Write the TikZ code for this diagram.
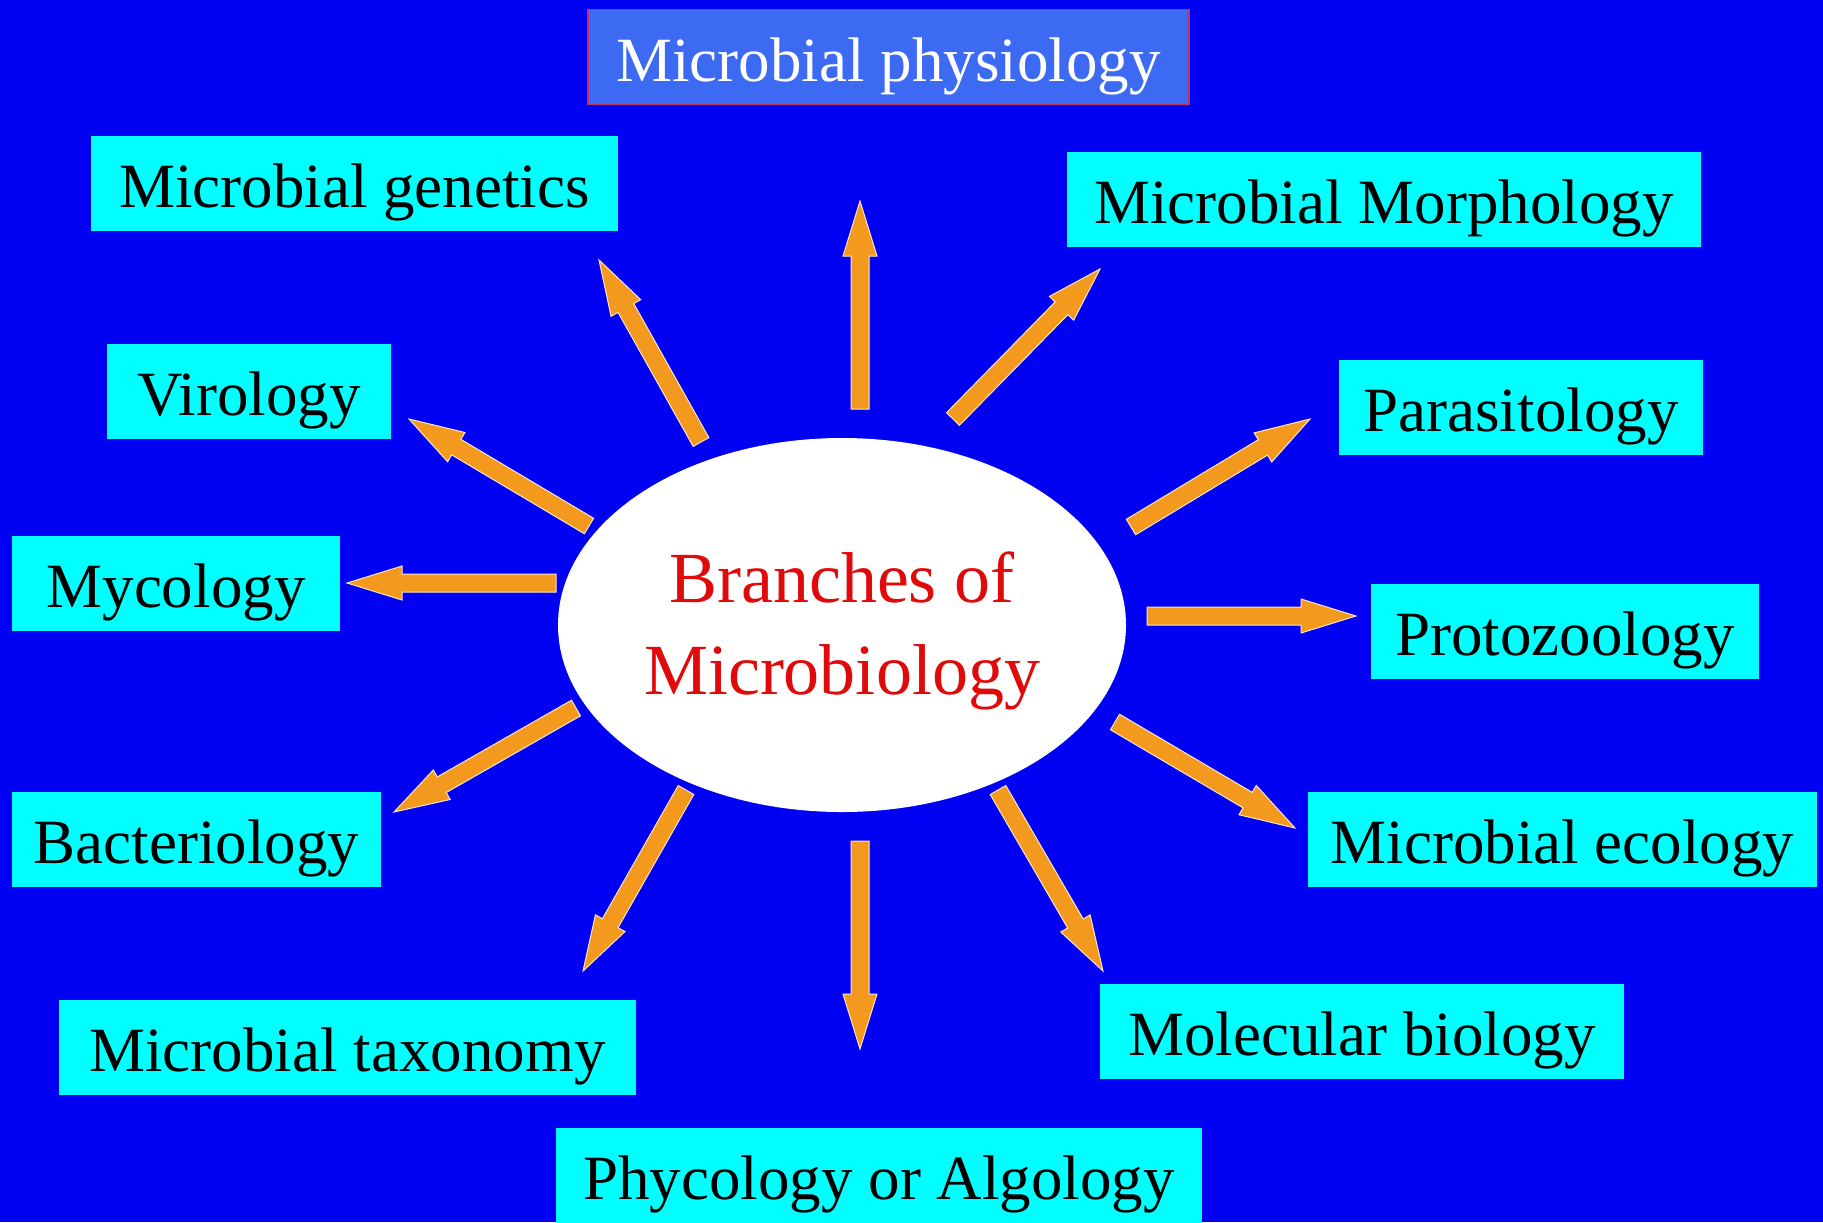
\documentclass[tikz,border=0pt]{standalone}
\usepackage{fontspec}
\setmainfont{Liberation Serif}
\usetikzlibrary{calc,shapes.geometric}
\definecolor{Slide}{HTML}{0000F2}
\definecolor{Topic}{HTML}{00FFFF}
\definecolor{Header}{HTML}{3D6AF2}
\definecolor{HeaderLine}{HTML}{C0306A}
\definecolor{Amber}{HTML}{F39A1E}
\definecolor{Rim}{HTML}{FCE6C8}
\definecolor{Title}{HTML}{E00A0A}
\tikzset{
  topic/.style={fill=Topic,inner sep=0pt,minimum height=47.5pt,text height=24pt,text depth=0pt,font=\fontsize{31.5}{36}\selectfont},
  header/.style={topic,fill=Header,draw=HeaderLine,line width=0.75pt,text=white},
  hub/.style={ellipse,fill=white,inner sep=0pt,minimum width=284pt,minimum height=187pt,align=center,text=Title,font=\fontsize{36}{46}\selectfont},
  arrowbody/.style={fill=Amber,draw=Rim,line width=0.5pt,line join=miter}
}
% block arrow from #1 (tail) to #2 (tip)
\newcommand{\branch}[2]{%
  \filldraw[arrowbody] ($(#1)!4.5pt!90:(#2)$) -- ($(#2)!27.5pt!(#1)!4.5pt!90:(#2)$)
    -- ($(#2)!27.5pt!(#1)!8.5pt!90:(#2)$) -- (#2)
    -- ($(#2)!27.5pt!(#1)!8.5pt!-90:(#2)$) -- ($(#2)!27.5pt!(#1)!4.5pt!-90:(#2)$)
    -- ($(#1)!4.5pt!-90:(#2)$) -- cycle;}

\begin{document}
\begin{tikzpicture}[x=0.5pt,y=-0.5pt]
  \useasboundingbox (0,0) rectangle (1823,1222);
  \fill[Slide] (0,0) rectangle (1823,1222);

  % arrow ends
  \coordinate (s1) at (860,409);   \coordinate (t1) at (860,201);
  \coordinate (s2) at (701,442);   \coordinate (t2) at (599,260);
  \coordinate (s3) at (589,526);   \coordinate (t3) at (409,419);
  \coordinate (s4) at (556,583);   \coordinate (t4) at (347,583);
  \coordinate (s5) at (576,708);   \coordinate (t5) at (394,812);
  \coordinate (s6) at (686,790);   \coordinate (t6) at (583,971);
  \coordinate (s7) at (860,841);   \coordinate (t7) at (860,1049);
  \coordinate (s8) at (998,790);   \coordinate (t8) at (1103,971);
  \coordinate (s9) at (1115,722);  \coordinate (t9) at (1295,828);
  \coordinate (s10) at (1147,616); \coordinate (t10) at (1356,616);
  \coordinate (s11) at (1131,527); \coordinate (t11) at (1310,419);
  \coordinate (s12) at (953,419);  \coordinate (t12) at (1100,269);

  \branch{s1}{t1}
  \branch{s2}{t2}
  \branch{s3}{t3}
  \branch{s4}{t4}
  \branch{s5}{t5}
  \branch{s6}{t6}
  \branch{s7}{t7}
  \branch{s8}{t8}
  \branch{s9}{t9}
  \branch{s10}{t10}
  \branch{s11}{t11}
  \branch{s12}{t12}

  \node[hub] (hub) at (842,625) {\rule{0pt}{31.6pt}Branches of\\Microbiology};

  \node[header,minimum width=300.5pt] (phys) at (888.5,57) {Microbial physiology};
  \node[topic,minimum width=263.5pt] (gen) at (354.5,183) {Microbial genetics};
  \node[topic,minimum width=317pt] (morph) at (1384,199.5) {Microbial Morphology};
  \node[topic,minimum width=142pt] (viro) at (249,391.5) {Virology};
  \node[topic,minimum width=182pt] (para) at (1521,407.5) {Parasitology};
  \node[topic,minimum width=164pt] (myco) at (176,583) {Mycology};
  \node[topic,minimum width=194pt] (proto) at (1565,631) {Protozoology};
  \node[topic,minimum width=184.5pt] (bact) at (196.5,839) {Bacteriology};
  \node[topic,minimum width=254.5pt] (eco) at (1562.5,839.5) {Microbial ecology};
  \node[topic,minimum width=288.5pt] (taxo) at (347.5,1047.5) {Microbial taxonomy};
  \node[topic,minimum width=262pt] (molbio) at (1362,1031.5) {Molecular biology};
  \node[topic,minimum width=323pt] (phyco) at (879,1175.5) {Phycology or Algology};
\end{tikzpicture}
\end{document}
